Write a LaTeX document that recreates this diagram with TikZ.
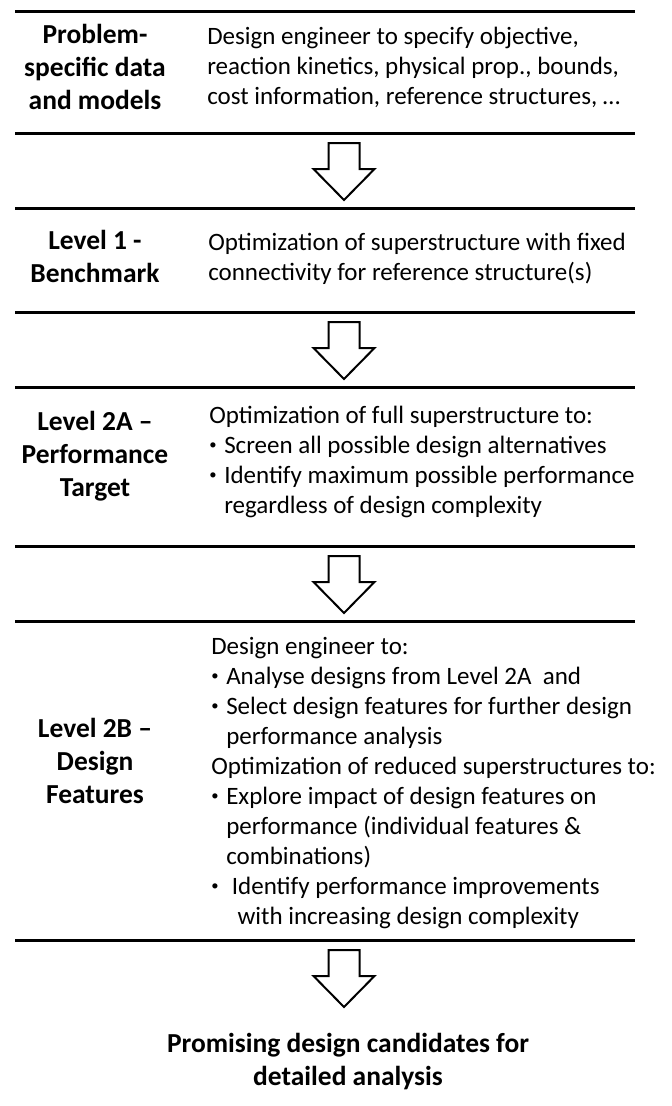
\documentclass[tikz,border=0pt]{standalone}
\usepackage{fontspec}
\setmainfont{Carlito}

% small bullet, and the matching indent for wrapped lines
\newcommand{\bul}{\makebox[0.6em][l]{\raisebox{2.4pt}{\fontsize{11}{11}\selectfont\textbullet}}}
\newcommand{\ind}{\hphantom{\bul}}

\begin{document}
\begin{tikzpicture}[x=0.75pt,y=-0.75pt,
	rule/.style={line width=2.25pt},
	blockarrow/.style={line width=1.5pt, line join=miter, fill=white},
	lab/.style={font=\fontsize{20.6}{24.75}\selectfont\bfseries, align=center, anchor=base, inner sep=0pt},
	txt/.style={font=\fontsize{18.75}{22.5}\selectfont, align=left, anchor=base west, inner sep=0pt}]

\useasboundingbox (0,0) rectangle (671,1106);

% rules between the levels
\foreach \y in {12,133,208,312,387,546,621,940}
	\draw[rule] (15,\y) -- (635,\y);

% hollow arrows down
\foreach \y in {133,312,546,940}
	\draw[blockarrow] (328.5,\y+10) -- (359.5,\y+10) -- (359.5,\y+36) -- (374.5,\y+36)
		-- (344,\y+67) -- (313.5,\y+36) -- (328.5,\y+36) -- cycle;

% left column: levels (placed at the baseline of the last line)
      \node[lab] (datlab) at (95,109) {Problem-\\specific data\\and models};
      \node[lab] (l1lab) at (95,282) {Level 1 -\\Benchmark};
      \node[lab] (l2alab) at (95,496) {Level 2A --\\Performance\\Target};
      \node[lab] (l2blab) at (95,803) {Level 2B --\\Design\\Features};
      \node[lab] (outlab) at (348,1085) {Promising design candidates for\\detailed analysis};

% right column: tasks
      \node[txt] (dattxt) at (207,104) {Design engineer to specify objective,\\reaction kinetics, physical prop., bounds,\\cost information, reference structures, …};
      \node[txt] (l1txt) at (208,280) {Optimization of superstructure with fixed\\connectivity for reference structure(s)};
      \node[txt] (l2atxt) at (209,513) {Optimization of full superstructure to:\\
		\bul Screen all possible design alternatives\\
		\bul Identify maximum possible performance\\
		\ind regardless of design complexity};
      \node[txt] (l2btxt) at (211,924) {Design engineer to:\\
		\bul Analyse designs from Level 2A\ \ and\\
		\bul Select design features for further design\\
		\ind performance analysis\\
		Optimization of reduced superstructures to:\\
		\bul Explore impact of design features on\\
		\ind performance (individual features \&\\
		\ind combinations)\\
		\bul\ Identify performance improvements\\
		\ind\ \ with increasing design complexity};

\end{tikzpicture}
\end{document}
